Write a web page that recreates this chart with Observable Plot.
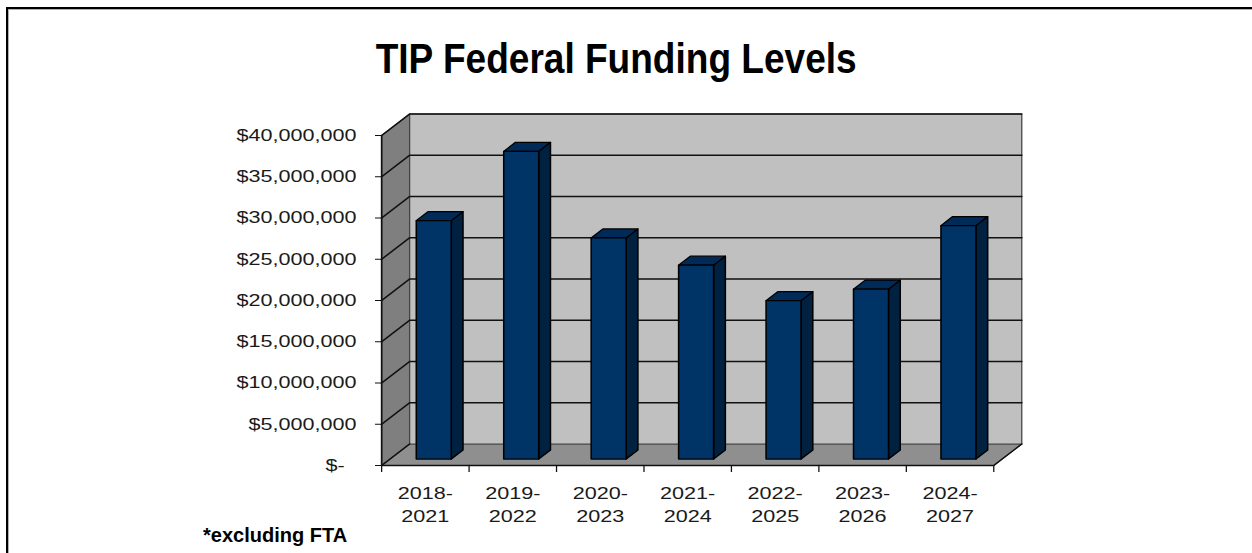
<!DOCTYPE html>
<html>
<head>
<meta charset="utf-8">
<script src="https://cdn.jsdelivr.net/npm/d3@7"></script>
<script src="https://cdn.jsdelivr.net/npm/@observablehq/plot@0.6"></script>
<style>
  html, body { margin: 0; padding: 0; background: #fff; }
  body { width: 1252px; height: 553px; overflow: hidden; position: relative; font-family: "Liberation Sans", Arial, sans-serif; }
  #frame { position: absolute; left: 6px; top: 7px; width: 1400px; height: 700px; border-top: 2px solid #000; border-left: 2px solid #000; }
  #frame2 { position: absolute; left: 8px; top: 9px; width: 1400px; height: 700px; border-top: 1px solid #b0b0b0; border-left: 1px solid #b0b0b0; }
  #title { position: absolute; left: 0; top: 37px; width: 1233px; text-align: center; font: bold 43px/43px "Liberation Sans Narrow", "Arial Narrow", "Liberation Sans", Arial, sans-serif; color: #000; white-space: nowrap; }
  #title span { display: inline-block; transform-origin: 50% 50%; }
  #caption { position: absolute; left: 203px; top: 525px; font: bold 20px/20px "Liberation Sans", Arial, sans-serif; color: #000; white-space: nowrap; }
  #chart { position: absolute; left: 0; top: 90px; }
</style>
</head>
<body>
<div id="frame"></div>
<div id="frame2"></div>
<div id="title"><span>TIP Federal Funding Levels</span></div>
<div id="chart"></div>
<div id="caption">*excluding FTA</div>
<script>
// ---- data ----
const categories = ["2018-2021", "2019-2022", "2020-2023", "2021-2024", "2022-2025", "2023-2026", "2024-2027"];
const funding = [28900000, 37300000, 26800000, 23500000, 19200000, 20600000, 28300000];
const yTicks = [0, 5000000, 10000000, 15000000, 20000000, 25000000, 30000000, 35000000, 40000000];
const yMax = 40000000;

// ---- layout / style ----
const S = 1.27;                       // horizontal stretch of the chart object
const width = 986, height = 463;
const marginLeft = 300, marginRight = 204, marginTop = 45, marginBottom = 88;
const innerW = width - marginLeft - marginRight;
const innerH = height - marginTop - marginBottom;
const n = categories.length;
const wallDx = 28 / S, wallDy = 21.5;  // oblique depth offset in px
const ux = wallDx / (innerW / n);
const uy = wallDy / (innerH / yMax);
const P = (i, v, d) => ({X: i + d * ux, Y: v + d * uy});
const barD0 = 0.30, barD1 = 0.72, barW = 0.40;

const poly = (id, pts) => pts.map((p, k) => ({id, k, ...p}));

const sideWall = poly("side", [P(0, 0, 0), P(0, 0, 1), P(0, yMax, 1), P(0, yMax, 0)]);
const backWall = poly("back", [P(0, 0, 1), P(n, 0, 1), P(n, yMax, 1), P(0, yMax, 1)]);
const floor = poly("floor", [P(0, 0, 0), P(n, 0, 0), P(n, 0, 1), P(0, 0, 1)]);
const grid = yTicks.filter(t => t > 0).flatMap(t => poly("g" + t, [P(0, t, 0), P(0, t, 1), P(n, t, 1)]));
const floorEdges = [
  ...poly("fe0", [P(0, 0, 0), P(0, 0, 1)]),
  ...poly("fe1", [P(n, 0, 0), P(n, 0, 1)])
];

const fronts = [], sides = [], tops = [];
funding.forEach((v, i) => {
  const x0 = i + (1 - barW) / 2, x1 = x0 + barW;
  fronts.push(...poly("f" + i, [P(x0, 0, barD0), P(x1, 0, barD0), P(x1, v, barD0), P(x0, v, barD0)]));
  sides.push(...poly("s" + i, [P(x1, 0, barD0), P(x1, 0, barD1), P(x1, v, barD1), P(x1, v, barD0)]));
  tops.push(...poly("t" + i, [P(x0, v, barD0), P(x1, v, barD0), P(x1, v, barD1), P(x0, v, barD1)]));
});

const fmt = d => d === 0 ? "$-\u00a0\u00a0" : "$" + d3.format(",")(d);
const face = (data, fill, stroke = "#000", sw = 1) =>
  Plot.line(data, {x: "X", y: "Y", z: "id", curve: "linear-closed", fill, stroke, strokeWidth: sw});

const chart = Plot.plot({
  width, height, marginLeft, marginRight, marginTop, marginBottom,
  x: {domain: [0, n], label: null},
  y: {domain: [0, yMax], label: null},
  style: {background: "transparent", fontFamily: "'Liberation Sans', Arial, sans-serif", fontSize: "17px", color: "#1a1a1a", overflow: "visible"},
  marks: [
    face(sideWall, "#7f7f7f", "#444", 1),
    face(floor, "#8f8f8f", "#555", 1),
    face(backWall, "#c0c0c0", "#444", 1),
    Plot.line(grid, {x: "X", y: "Y", z: "id", stroke: "#111", strokeWidth: 1.4}),
    Plot.line(floorEdges, {x: "X", y: "Y", z: "id", stroke: "#111", strokeWidth: 1.3}),
    face(sides, "#00213f", "#000", 1.2),
    face(tops, "#002a58", "#000", 1.2),
    face(fronts, "#003366", "#000", 1.2),
    Plot.ruleX([0], {y1: 0, y2: yMax, stroke: "#111", strokeWidth: 1.3}),
    Plot.ruleY([0], {x1: 0, x2: n, stroke: "#111", strokeWidth: 1.4}),
    Plot.axisY({ticks: yTicks, tickSize: 6 / S, tickPadding: 15, tickFormat: fmt, fontSize: 17, stroke: "#111"}),
    Plot.axisX({ticks: d3.range(n + 1), tickSize: 7, tickFormat: () => "", stroke: "#111"}),
    Plot.text(categories, {x: (d, i) => i + 0.5, y: 0, text: d => d.replace("-", "-\n"), dy: 17, lineAnchor: "top", lineHeight: 1.35, fontSize: 17, fill: "#1a1a1a"})
  ]
});
chart.style.transform = `scaleX(${S})`;
chart.style.transformOrigin = "0 0";
chart.style.maxWidth = "none";
document.getElementById("chart").appendChild(chart);

document.fonts.ready.then(() => {
  const span = document.querySelector("#title span");
  const w = span.getBoundingClientRect().width;
  span.style.transform = `scaleX(${481 / w})`;
});
</script>
</body>
</html>
